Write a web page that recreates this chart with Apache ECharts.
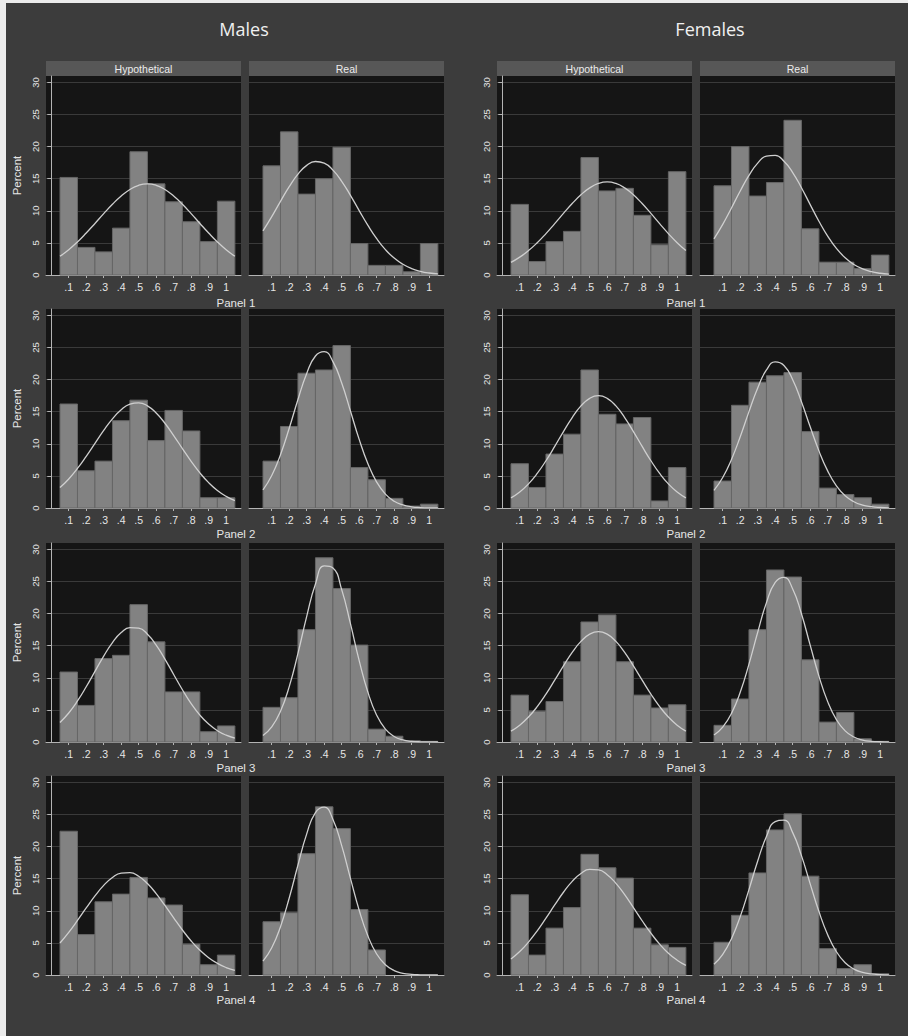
<!DOCTYPE html>
<html><head><meta charset="utf-8">
<script src="https://cdn.jsdelivr.net/npm/echarts@6/dist/echarts.min.js"></script>
<style>
html,body{margin:0;padding:0;background:#ececec;}
#chart{position:absolute;left:0;top:0;width:908px;height:1036px;background:#3c3c3c;box-shadow:inset 6px 3px 0 0 #ececec;}
</style></head><body><div id="chart"></div>
<script>
// ---------- data ----------
const binCenters = [0.1,0.2,0.3,0.4,0.5,0.6,0.7,0.8,0.9,1.0];
const binHalfWidth = 0.05;
const curveX = [0.05,0.10,0.15,0.20,0.25,0.30,0.35,0.40,0.45,0.50,0.55,0.60,0.65,0.70,0.75,0.80,0.85,0.90,0.95,1.00,1.05];
const xTickLabels = ['.1','.2','.3','.4','.5','.6','.7','.8','.9','1'];
const yTickValues = [0,5,10,15,20,25,30];
const genderTitles = ['Males','Females'];
const typeLabels = ['Hypothetical','Real'];
const panelLabels = ['Panel 1','Panel 2','Panel 3','Panel 4'];
const yAxisTitle = 'Percent';

// Panel 1
const mHyp1  = [15.2, 4.3, 3.6, 7.3, 19.2, 14.2, 11.4, 8.3, 5.2, 11.5];
const mReal1 = [17.0, 22.3, 12.6, 15.0, 19.9, 4.9, 1.5, 1.5, 0.5, 4.9];
const fHyp1  = [11.0, 2.1, 5.2, 6.8, 18.3, 13.1, 13.5, 9.3, 4.7, 16.1];
const fReal1 = [13.9, 20.0, 12.3, 14.4, 24.1, 7.2, 2.0, 2.0, 1.0, 3.1];
// Panel 2
const mHyp2  = [16.2, 5.8, 7.3, 13.6, 16.8, 10.5, 15.2, 12.0, 1.6, 1.6];
const mReal2 = [7.3, 12.7, 21.0, 21.5, 25.3, 6.3, 4.4, 1.5, 0.3, 0.6];
const fHyp2  = [6.9, 3.2, 8.4, 11.5, 21.5, 14.6, 13.1, 14.1, 1.1, 6.3];
const fReal2 = [4.2, 16.0, 19.6, 20.6, 21.1, 11.9, 3.1, 2.1, 1.6, 0.6];
// Panel 3
const mHyp3  = [10.9, 5.7, 13.0, 13.5, 21.4, 15.6, 7.8, 7.8, 1.6, 2.5];
const mReal3 = [5.4, 6.9, 17.5, 28.7, 23.9, 15.1, 2.0, 0.9, 0.2, 0.1];
const fHyp3  = [7.3, 4.8, 6.3, 12.5, 18.7, 19.8, 12.5, 7.3, 5.3, 5.8];
const fReal3 = [2.6, 6.7, 17.5, 26.8, 25.7, 12.8, 3.1, 4.6, 0.5, 0.1];
// Panel 4
const mHyp4  = [22.4, 6.3, 11.4, 12.6, 15.2, 12.0, 10.9, 4.8, 1.6, 3.1];
const mReal4 = [8.3, 9.7, 18.9, 26.2, 22.8, 10.2, 3.9, 0, 0, 0];
const fHyp4  = [12.5, 3.1, 7.3, 10.5, 18.8, 16.7, 15.1, 7.3, 4.7, 4.3];
const fReal4 = [5.1, 9.3, 15.9, 22.6, 25.1, 15.4, 4.1, 1.0, 1.6, 0.2];

// normal-density overlays, read at curveX
const mHypCurve1  = [2.92,3.94,5.15,6.54,8.03,9.56,11.02,12.31,13.33,13.98,14.2,13.98,13.33,12.31,11.02,9.56,8.03,6.54,5.15,3.94,2.92];
const mRealCurve1 = [6.87,9.10,11.47,13.76,15.71,17.08,17.68,17.42,16.34,14.60,12.41,10.04,7.73,5.67,3.96,2.63,1.67,1.00,0.58,0.31,0.16];
const fHypCurve1  = [1.96,2.78,3.80,5.03,6.45,8.00,9.59,11.13,12.50,13.57,14.26,14.5,14.26,13.57,12.50,11.13,9.59,8.00,6.45,5.03,3.80];
const fRealCurve1 = [5.63,7.88,10.44,13.09,15.52,17.43,18.51,18.62,17.72,15.96,13.60,10.97,8.37,6.05,4.14,2.68,1.64,0.95,0.52,0.27,0.13];
const mHypCurve2  = [3.18,4.52,6.16,8.05,10.07,12.08,13.89,15.31,16.18,16.39,15.91,14.80,13.20,11.29,9.25,7.27,5.47,3.95,2.73,1.81,1.15];
const mRealCurve2 = [2.81,5.06,8.31,12.42,16.91,20.97,23.68,24.35,22.81,19.46,15.12,10.69,6.89,4.04,2.16,1.05,0.47,0.19,0.07,0.02,0.01];
const fHypCurve2  = [1.58,2.50,3.76,5.39,7.36,9.59,11.91,14.09,15.90,17.08,17.5,17.08,15.90,14.09,11.91,9.59,7.36,5.39,3.76,2.50,1.58];
const fRealCurve2 = [2.75,4.75,7.56,11.10,15.01,18.71,21.50,22.76,22.21,19.98,16.56,12.65,8.90,5.78,3.45,1.90,0.97,0.45,0.20,0.08,0.03];
const mHypCurve3  = [3.04,4.52,6.39,8.60,11.00,13.39,15.49,17.04,17.83,17.74,16.79,15.10,12.92,10.52,8.14,5.99,4.19,2.79,1.76,1.06,0.61];
const mRealCurve3 = [1.02,2.35,4.78,8.62,13.80,19.58,24.61,27.43,27.10,23.74,18.43,12.68,7.74,4.18,2.01,0.85,0.32,0.11,0.03,0.01,0.00];
const fHypCurve3  = [1.69,2.62,3.89,5.51,7.45,9.63,11.86,13.96,15.67,16.80,17.2,16.80,15.67,13.96,11.86,9.63,7.45,5.51,3.89,2.62,1.69];
const fRealCurve3 = [1.08,2.32,4.46,7.75,12.13,17.09,21.71,24.86,25.65,23.84,19.98,15.09,10.26,6.29,3.48,1.73,0.78,0.31,0.11,0.04,0.01];
const mHypCurve4  = [4.99,6.65,8.50,10.44,12.32,13.96,15.20,15.88,15.95,15.38,14.25,12.67,10.83,8.89,7.01,5.30,3.86,2.69,1.81,1.16,0.72];
const mRealCurve4 = [2.15,4.24,7.53,12.00,17.14,21.99,25.31,26.14,24.24,20.16,15.06,10.09,6.07,3.27,1.59,0.69,0.27,0.09,0.03,0.01,0.00];
const fHypCurve4  = [2.50,3.66,5.13,6.88,8.86,10.91,12.89,14.59,15.82,16.44,16.37,15.62,14.28,12.51,10.50,8.45,6.51,4.81,3.40,2.31,1.50];
const fRealCurve4 = [1.66,3.21,5.66,9.09,13.30,17.75,21.57,23.90,24.12,22.18,18.59,14.20,9.88,6.27,3.62,1.91,0.92,0.40,0.16,0.06,0.02];

// ---------- layout ----------
const rows = [
  [[mHyp1,mHypCurve1],[mReal1,mRealCurve1],[fHyp1,fHypCurve1],[fReal1,fRealCurve1]],
  [[mHyp2,mHypCurve2],[mReal2,mRealCurve2],[fHyp2,fHypCurve2],[fReal2,fRealCurve2]],
  [[mHyp3,mHypCurve3],[mReal3,mRealCurve3],[fHyp3,fHypCurve3],[fReal3,fRealCurve3]],
  [[mHyp4,mHypCurve4],[mReal4,mRealCurve4],[fHyp4,fHypCurve4],[fReal4,fRealCurve4]]
];
const colLeft = [46, 249, 497, 700];
const plotW = 195;
const rowTop = [76, 309, 543, 776];
const plotH = 199;
const panelLabelY = [303, 534, 768, 1000];
const panelLabelX = [236, 686];
const titleX = [244, 710];
const FONT = '"Liberation Sans", Arial, sans-serif';
const TXT = '#e6e6e6';
const AXC = '#b4b4b4';

const grids = [], xAxes = [], yAxes = [], series = [];
rows.forEach((row, r) => {
  row.forEach((panel, c) => {
    const idx = grids.length;
    const isHyp = (c % 2 === 0);
    const isMale = c < 2;
    grids.push({left: colLeft[c], top: rowTop[r], width: plotW, height: plotH,
      show: true, backgroundColor: '#151515', borderWidth: 0});
    xAxes.push({gridIndex: idx, type: 'value', min: -0.03, max: 1.085,
      axisLine: {show: true, onZero: false, lineStyle: {color: AXC, width: 1}},
      axisTick: {show: true, customValues: binCenters, length: 3, lineStyle: {color: AXC}},
      axisLabel: {customValues: binCenters, color: TXT, fontSize: 10.5, fontFamily: FONT, margin: 6,
        formatter: v => { const i = binCenters.findIndex(b => Math.abs(b - v) < 1e-6); return i >= 0 ? xTickLabels[i] : ''; }},
      splitLine: {show: false}});
    yAxes.push({gridIndex: idx, type: 'value', min: 0, max: 31,
      axisLine: {show: isHyp, lineStyle: {color: AXC, width: 1}},
      axisTick: {show: isHyp, customValues: yTickValues, length: 4, lineStyle: {color: AXC}},
      axisLabel: {show: isHyp, customValues: yTickValues, rotate: 90, color: TXT, fontSize: 9.5, fontFamily: FONT, margin: 6},
      splitLine: {show: true, lineStyle: {color: '#3a3a3a', width: 1}},
      name: (isHyp && isMale) ? yAxisTitle : '', nameLocation: 'middle', nameGap: 23, nameRotate: 90,
      nameTextStyle: {color: TXT, fontSize: 11.5, fontFamily: FONT}});
    series.push({type: 'custom', xAxisIndex: idx, yAxisIndex: idx, z: 2,
      data: binCenters.map((x, i) => [x, panel[0][i]]),
      encode: {x: 0, y: 1},
      renderItem: (params, api) => {
        const x = api.value(0), y = api.value(1);
        if (!y) return null;
        const p1 = api.coord([x - binHalfWidth, y]);
        const p2 = api.coord([x + binHalfWidth, 0]);
        return {type: 'rect', shape: {x: p1[0], y: p1[1], width: p2[0] - p1[0], height: p2[1] - p1[1]},
          style: {fill: '#828282', stroke: '#666666', lineWidth: 1}};
      }});
    series.push({type: 'line', xAxisIndex: idx, yAxisIndex: idx, z: 3,
      data: curveX.map((x, i) => [x, panel[1][i]]),
      smooth: 0.5, symbol: 'none', lineStyle: {color: '#cfcfcf', width: 1.3}});
  });
});

const graphics = [];
genderTitles.forEach((t, g) => {
  graphics.push({type: 'text', x: titleX[g], y: 29,
    style: {text: t, fill: '#f0f0f0', font: '18px "Open Sans", sans-serif', align: 'center', verticalAlign: 'middle', textAlign: 'center', textVerticalAlign: 'middle'}});
});
colLeft.forEach((l, c) => {
  graphics.push({type: 'rect', shape: {x: l, y: 61, width: plotW, height: 15}, style: {fill: '#575757'}});
  graphics.push({type: 'text', x: l + plotW / 2, y: 68.5,
    style: {text: typeLabels[c % 2], fill: '#ececec', font: '10.5px ' + FONT, align: 'center', verticalAlign: 'middle', textAlign: 'center', textVerticalAlign: 'middle'}});
});
panelLabels.forEach((t, r) => {
  panelLabelX.forEach(x => {
    graphics.push({type: 'text', x: x, y: panelLabelY[r],
      style: {text: t, fill: TXT, font: '11.5px ' + FONT, align: 'center', verticalAlign: 'middle', textAlign: 'center', textVerticalAlign: 'middle'}});
  });
});

const chart = echarts.init(document.getElementById('chart'), null, {renderer: 'svg'});
chart.setOption({
  animation: false,
  backgroundColor: 'transparent',
  grid: grids, xAxis: xAxes, yAxis: yAxes, series: series,
  graphic: {elements: graphics}
});
</script></body></html>
